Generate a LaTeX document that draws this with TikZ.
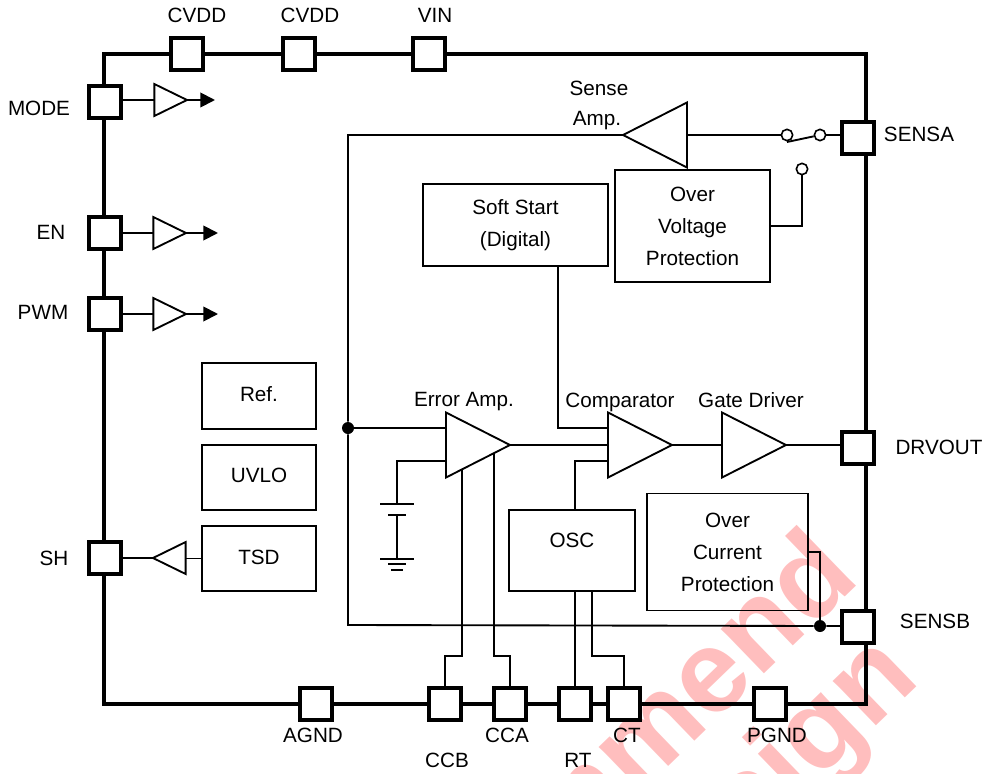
\documentclass[tikz,border=0pt]{standalone}
\usepackage{fontspec}
\setmainfont{Liberation Sans}
\usetikzlibrary{shapes.geometric,arrows.meta}
\definecolor{stampred}{RGB}{255,190,190}
\tikzset{
    wire/.style={line width=1.4pt},
    pinbox/.style={draw, fill=white, line width=3pt, minimum size=24pt, inner sep=0pt},
    blockbox/.style={draw, line width=1.4pt, inner sep=0pt, align=center},
    amp/.style={draw, fill=white, line width=1.4pt, isosceles triangle, isosceles triangle stretches,
        minimum width=48.75pt, minimum height=48pt, inner sep=0pt, outer sep=0pt},
    buffer/.style={amp, minimum width=24pt, minimum height=24.5pt},
    txt/.style={inner sep=0pt},
    contact/.style={draw, fill=white, circle, line width=1.2pt, minimum size=8.5pt, inner sep=0pt},
    junction/.style={fill=black, circle, minimum size=9pt, inner sep=0pt},
    outarrow/.style={wire, -{Triangle[length=11pt,width=11pt]}},
    stamp/.style={text=stampred, inner sep=0pt, anchor=base east, rotate=44, font=\fontsize{88}{88}\selectfont\bfseries}
}
\begin{document}
\begin{tikzpicture}[x=0.75pt, y=-0.75pt, every node/.append style={font=\fontsize{15.5}{24}\selectfont}]
    \useasboundingbox (0,0) rectangle (985,774);

    % Stamp behind the drawing
    \begin{scope}
        \clip (0,0) rectangle (985,774);
        \node[stamp] (stampa) at (862,580) {mmend};
        \node[stamp] (stampb) at (922,682) {sign};
    \end{scope}

    % Chip outline
    \node[draw, line width=3.4pt, minimum width=571.5pt, minimum height=487.5pt, inner sep=0pt] (chip) at (485,379) {};

    % Pins
    \node[pinbox] (cvdda) at (187,54) {};
    \node[pinbox] (cvddb) at (299,54) {};
    \node[pinbox] (vin) at (429,54) {};
    \node[pinbox] (mode) at (105,102) {};
    \node[pinbox] (en) at (105,233) {};
    \node[pinbox] (pwm) at (105,314) {};
    \node[pinbox] (sh) at (105,558) {};
    \node[pinbox] (sensa) at (858,138) {};
    \node[pinbox] (drvout) at (858,448) {};
    \node[pinbox] (sensb) at (858,627) {};
    \node[pinbox] (agnd) at (316,704) {};
    \node[pinbox] (ccb) at (445,704) {};
    \node[pinbox] (cca) at (510,704) {};
    \node[pinbox] (rt) at (575,704) {};
    \node[pinbox] (ct) at (624,704) {};
    \node[pinbox] (pgnd) at (770,704) {};

    % Pin names
    \node[txt] (cvddal) at (197,15) {CVDD};
    \node[txt] (cvddbl) at (310,15) {CVDD};
    \node[txt] (vinl) at (435,15) {VIN};
    \node[txt] (model) at (39,108) {MODE};
    \node[txt] (enl) at (51,232) {EN};
    \node[txt] (pwml) at (43,312) {PWM};
    \node[txt] (shl) at (54,558) {SH};
    \node[txt] (sensal) at (919,134) {SENSA};
    \node[txt] (drvoutl) at (939,447) {DRVOUT};
    \node[txt] (sensbl) at (935,621) {SENSB};
    \node[txt] (agndl) at (313,735) {AGND};
    \node[txt] (ccbl) at (447,760) {CCB};
    \node[txt] (ccal) at (507,735) {CCA};
    \node[txt] (rtl) at (578,760) {RT};
    \node[txt] (ctl) at (627,735) {CT};
    \node[txt] (pgndl) at (777,735) {PGND};

    % Blocks
    \node[blockbox, minimum width=85.5pt, minimum height=49.5pt, text depth=3pt] (ref) at (259,396) {Ref.};
    \node[blockbox, minimum width=85.5pt, minimum height=48.75pt, text depth=3pt] (uvlo) at (259,477.5) {UVLO};
    \node[blockbox, minimum width=85.5pt, minimum height=48.75pt, text depth=1.5pt] (tsd) at (259,558.5) {TSD};
    \node[blockbox, minimum width=138.75pt, minimum height=61.5pt] (soft) at (515.5,225) {Soft Start\\(Digital)};
    \node[blockbox, minimum width=116.25pt, minimum height=84pt] (ovp) at (692.5,226) {Over\\Voltage\\Protection};
    \node[blockbox, minimum width=94.5pt, minimum height=60.75pt, text depth=16pt] (osc) at (572,550.5) {OSC};
    \node[blockbox, minimum width=120.75pt, minimum height=87.75pt] (ocp) at (727.5,552) {Over\\Current\\Protection};

    % Amplifiers
    \node[amp, anchor=apex] (erramp) at (510,445) {};
    \node[amp, anchor=apex] (comp) at (672,445) {};
    \node[amp, anchor=apex] (gatedrv) at (786,445) {};
    \node[amp, anchor=apex, shape border rotate=180] (senseamp) at (623,135) {};
    \node[txt] (errampl) at (464,402) {Error Amp.};
    \node[txt] (compl) at (620,402) {Comparator};
    \node[txt] (gatedrvl) at (751,400) {Gate Driver};
    \node[txt] (senseampl) at (599,88) {Sense};
    \node[txt] (senseampm) at (597,121) {Amp.};

    % Input and output buffers
    \node[buffer, anchor=apex] (modebuf) at (187,100) {};
    \node[buffer, anchor=apex] (enbuf) at (186,233) {};
    \node[buffer, anchor=apex] (pwmbuf) at (186,314) {};
    \node[buffer, anchor=apex, shape border rotate=180] (shbuf) at (153,558) {};
    \coordinate (modeout) at (215,100);
    \coordinate (enout) at (218,233);
    \coordinate (pwmout) at (218,314);
    \draw[wire] (mode.east |- modebuf.apex) -- (modebuf.apex -| modebuf.west);
    \draw[outarrow] (modebuf.apex) -- (modeout);
    \draw[wire] (en.east) -- (en.east -| enbuf.west);
    \draw[outarrow] (enbuf.apex) -- (enout);
    \draw[wire] (pwm.east) -- (pwm.east -| pwmbuf.west);
    \draw[outarrow] (pwmbuf.apex) -- (pwmout);
    \draw[wire] (tsd.west) -- (tsd.west -| shbuf.east);
    \draw[wire] (shbuf.apex) -- (sh.east);

    % Sense switch
    \node[contact] (swa) at (787,135) {};
    \node[contact] (swb) at (820,135) {};
    \node[contact] (swc) at (802,169) {};
    \coordinate (swblade) at (787,142);
    \draw[wire] (swa -| senseamp.east) -- (swa);
    \draw[wire] (swblade) -- (swb);
    \draw[wire] (swb) -- (sensa.west |- swb);
    \draw[wire] (ovp.east) -| (swc);

    % Feedback line
    \node[junction] (fbdot) at (348,428) {};
    \node[junction] (sensdot) at (820,626) {};
    \coordinate (fbtop) at (348,135);
    \coordinate (fbbot) at (348,625);
    \draw[wire] (senseamp.apex) -- (fbtop) -- (fbdot) -- (fbbot) -- (sensdot) -- (sensa.west |- sensdot);
    \draw[wire] (ocp.east) -| (sensdot);

    % Error amp inputs and reference cell
    \coordinate (errpos) at (446,428);
    \coordinate (errneg) at (446,461);
    \coordinate (cellt) at (397,504);
    \coordinate (cellb) at (397,515);
    \coordinate (gndt) at (397,559);
    \draw[wire] (fbdot) -- (errpos);
    \draw[wire] (errneg) -| (cellt);
    \draw[wire] ([xshift=-12.75pt]cellt) -- ([xshift=12.75pt]cellt);
    \draw[wire] ([xshift=-6.75pt]cellb) -- ([xshift=6.75pt]cellb);
    \draw[wire] (cellb) -- (gndt);
    \draw[wire] ([xshift=-12.75pt]gndt) -- ([xshift=12.75pt]gndt);
    \draw[wire] ([xshift=-6.75pt,yshift=-4pt]gndt) -- ([xshift=6.75pt,yshift=-4pt]gndt);
    \draw[wire] ([xshift=-4.5pt,yshift=-8pt]gndt) -- ([xshift=4.5pt,yshift=-8pt]gndt);

    % Signal path
    \coordinate (comppos) at (608,428);
    \coordinate (compneg) at (608,461);
    \draw[wire] (erramp.apex) -- (erramp.apex -| comp.west);
    \draw[wire] (comp.apex) -- (comp.apex -| gatedrv.west);
    \draw[wire] (gatedrv.apex) -- (drvout.west |- gatedrv.apex);
    \draw[wire] (soft.south -| 558,0) |- (comppos);
    \draw[wire] (osc.north -| 575,0) |- (compneg);

    % Bottom pin wiring
    \coordinate (ccbtap) at (462,469);
    \coordinate (ccatap) at (494,453);
    \coordinate (ctbend) at (592,656);
    \draw[wire] (ccb.north) |- (462,656) -- (ccbtap);
    \draw[wire] (cca.north) |- (494,656) -- (ccatap);
    \draw[wire] (rt.north) -- (rt.north |- osc.south);
    \draw[wire] (ct.north) |- (ctbend) -- (ctbend |- osc.south);
\end{tikzpicture}
\end{document}
